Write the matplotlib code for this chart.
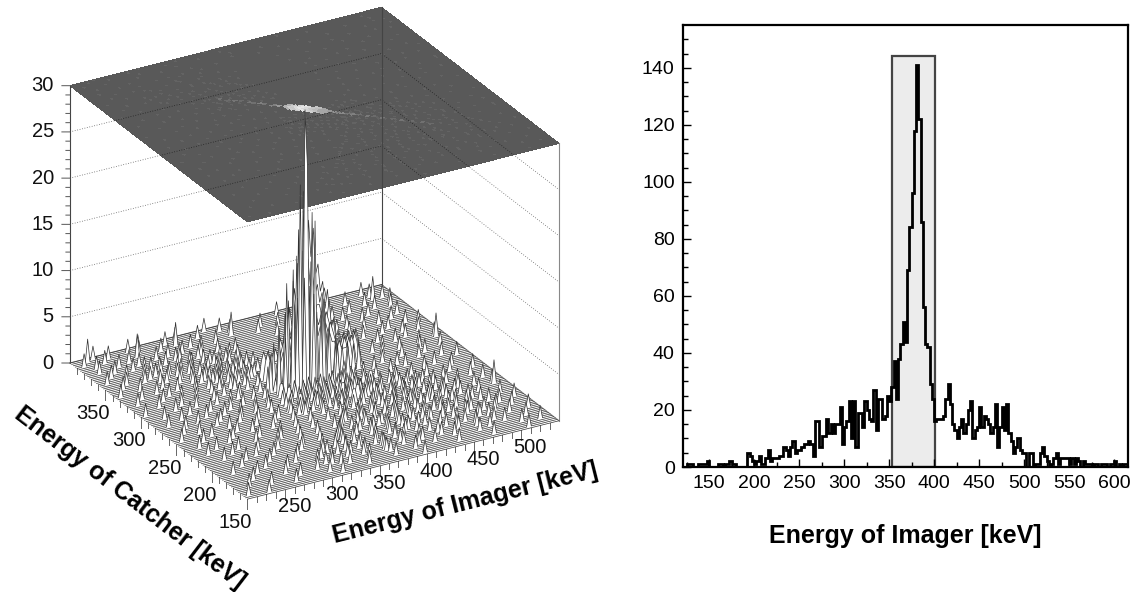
import numpy as np
import matplotlib
matplotlib.use('Agg')
import matplotlib.pyplot as plt
from matplotlib.patches import Rectangle
from mpl_toolkits.mplot3d import proj3d
from mpl_toolkits.mplot3d.art3d import Poly3DCollection

plt.rcParams['font.family'] = ['Liberation Sans', 'DejaVu Sans']

# right panel: counts per 2.5 keV bin, first bin starts at 122.5 keV
hist_start = 122.5
hist_width = 2.5
hist_counts = [
    0, 1, 1, 1, 0, 0, 1, 1, 1, 1, 2, 0, 0, 0, 0, 1, 1, 0, 1, 1,
    2, 1, 1, 0, 0, 0, 0, 0, 5, 4, 2, 1, 2, 4, 1, 1, 3, 6, 2, 3,
    3, 3, 4, 4, 7, 6, 4, 7, 9, 5, 6, 6, 7, 8, 8, 9, 8, 4, 16, 16,
    7, 11, 11, 17, 12, 15, 12, 15, 15, 21, 8, 14, 16, 23, 10, 23, 7, 19, 19, 14,
    23, 20, 17, 16, 27, 13, 24, 24, 17, 18, 25, 23, 28, 37, 24, 38, 43, 51, 44, 69,
    84, 96, 118, 141, 122, 86, 56, 43, 42, 29, 24, 16, 17, 17, 17, 18, 24, 29, 22, 15,
    13, 10, 14, 17, 12, 15, 20, 23, 10, 13, 14, 21, 14, 18, 17, 15, 12, 14, 22, 7,
    14, 21, 13, 22, 12, 9, 5, 7, 10, 6, 5, 5, 0, 5, 5, 0, 1, 1, 5, 7,
    4, 2, 0, 1, 3, 5, 1, 3, 3, 3, 3, 1, 3, 1, 3, 2, 0, 2, 1, 1,
    1, 0, 1, 1, 0, 1, 1, 1, 0, 1, 1, 2, 0, 1, 0, 1, 1, 0,
]
window_low = 353
window_high = 401
window_top = 144

# left panel: bin grid of the 2d histogram
imager_bins = np.arange(210, 540.1, 2.5)
catcher_bins = np.arange(150, 400.1, 2.5)

# tall thin spikes of the central peak, catcher -> (imager, counts)
peak_rows = {
    295: [(352, 6), (362, 9), (367, 11), (377, 14), (385, 10), (392, 7), (412, 4), (425, 3)],
    292.5: [(345, 5), (357, 8), (370, 13), (380, 12), (387, 9), (402, 5), (418, 3), (435, 3)],
    290: [(340, 4), (355, 8), (367, 14), (375, 11), (382, 13), (397, 7), (410, 4), (428, 3)],
    287.5: [(335, 3), (355, 11.5), (362, 9), (367, 17), (372, 21), (385, 17.5), (392, 9), (400, 6), (420, 3)],
    285: [(345, 7), (360, 13), (367, 22), (372, 30), (375, 24), (380, 18.7), (392, 9), (405, 4)],
    282.5: [(350, 6), (362, 10), (370, 12), (380, 10), (387, 8), (405, 4)],
}
# broad base of the peak behind them, values per bin from wall_start upwards
wall_start = 345
wall_rows = {
    310: [2, 3, 2, 3, 0, 2, 3, 2, 4, 3, 5, 4, 7, 5, 9, 7, 11, 8, 14, 10, 16, 12, 15, 10, 11, 8, 9, 6, 8, 5, 4, 3, 2, 3, 2, 3, 2, 3, 2, 2, 3, 2, 0],
    307.5: [0, 2, 3, 2, 0, 0, 2, 3, 2, 4, 3, 5, 4, 8, 5, 11, 7, 12, 8, 12, 9, 10, 8, 9, 7, 8, 6, 5, 7, 4, 5, 3, 3, 2, 3, 2, 3, 2, 2, 3, 2, 0, 0],
    305: [0, 0, 2, 3, 2, 2, 2, 3, 4, 3, 5, 4, 6, 5, 8, 6, 9, 7, 9, 6, 8, 6, 7, 7, 6, 5, 6, 5, 4, 5, 3, 3, 2, 3, 2, 3, 2, 2, 3, 2, 0, 0, 0],
    302.5: [0, 0, 0, 2, 2, 0, 2, 3, 2, 4, 3, 5, 4, 6, 4, 7, 5, 7, 5, 6, 5, 6, 5, 6, 4, 5, 4, 5, 4, 3, 3, 2, 2, 3, 2, 2, 3, 2, 0, 0, 0, 0, 0],
    300: [0, 0, 0, 0, 2, 0, 0, 2, 3, 2, 4, 3, 5, 3, 5, 4, 6, 4, 5, 4, 6, 4, 5, 3, 5, 3, 4, 3, 3, 2, 3, 2, 2, 2, 3, 2, 0, 0, 0, 0, 0, 0, 0],
}

# light streak on the top plane
streak_imager = [316, 320, 325, 329, 334, 338, 342, 346, 350, 353, 356, 359, 362, 364, 366, 368, 370, 372, 374, 376,
                 378, 380, 382, 384, 386, 389, 392, 395, 398, 402, 406, 410, 415, 420, 426, 432, 438, 445, 452, 458]
streak_catcher = [327.5, 322.5, 320, 317.5, 312.5, 310, 307.5, 305, 300, 300, 297.5, 295, 292.5, 290, 290, 287.5, 287.5, 285, 282.5, 282.5,
                  280, 280, 277.5, 275, 275, 272.5, 270, 267.5, 265, 262.5, 260, 257.5, 252.5, 250, 245, 240, 235, 230, 225, 220]
streak_level = [0.45, 0.42, 0.46, 0.42, 0.46, 0.44, 0.5, 0.46, 0.52, 0.5, 0.6, 0.55, 0.7, 0.72, 0.8, 0.78, 0.85, 0.9, 0.88, 0.85,
                0.82, 0.78, 0.74, 0.7, 0.65, 0.6, 0.58, 0.5, 0.54, 0.46, 0.5, 0.44, 0.48, 0.42, 0.46, 0.42, 0.46, 0.42, 0.44, 0.42]

# a few spikes that stand out at the back and right edge
tall_imager = [367, 312, 271, 224, 528, 531, 518]
tall_catcher = [382.5, 387.5, 385, 395, 225, 310, 382.5]
tall_n = [2.5, 2.5, 2.5, 2.5, 2.5, 2.5, 2.5]

# single low spikes on the floor, catcher -> imager positions
background_rows = {
    397.5: [232, 281, 351, 478], 395: [224, 268, 318, 425], 392.5: [246, 305, 362, 512], 390: [218, 276, 338, 452],
    387.5: [238, 312, 371, 518], 385: [271, 295, 400, 491], 382.5: [226, 367, 438, 527], 380: [258, 322, 415, 468],
    377.5: [245, 348, 392, 505], 375: [222, 282, 445, 531], 372.5: [262, 304, 420, 484], 370: [236, 326, 465, 510],
    367.5: [252, 298, 405, 526], 365: [228, 284, 341, 472], 362.5: [268, 318, 432, 497], 360: [241, 276, 355, 450],
    357.5: [218, 306, 410, 488], 355: [255, 290, 335, 522], 352.5: [264, 322, 428, 468], 350: [233, 277, 349, 455, 512],
    347.5: [250, 299, 420, 498], 345: [226, 272, 328, 440, 480], 342.5: [262, 310, 342, 462], 340: [283, 294, 425, 520],
    337.5: [238, 322, 351, 500], 335: [214, 278, 305, 445, 531], 332.5: [258, 336, 470, 490], 330: [288, 312, 418, 458],
    327.5: [248, 296, 345, 508], 325: [230, 268, 332, 435, 522], 322.5: [284, 308, 478], 320: [256, 318, 412, 452, 505],
    317.5: [220, 296, 340, 492], 315: [244, 280, 326, 430], 312.5: [262, 302, 475, 531], 310: [292, 355, 415, 462],
    307.5: [235, 315, 445, 510], 305: [272, 338, 428, 488], 302.5: [255, 300, 325, 468], 300: [216, 288, 350, 410, 505],
    297.5: [246, 312, 440, 525], 295: [266, 332, 425, 482], 292.5: [284, 308, 460, 505], 290: [228, 298, 345, 418],
    287.5: [252, 320, 448, 495], 285: [272, 330, 405, 470], 282.5: [240, 306, 432, 515], 280: [290, 342, 418, 476],
    277.5: [222, 262, 328, 458, 528], 275: [280, 312, 405, 440], 272.5: [250, 296, 345, 500], 270: [235, 322, 415, 488],
    267.5: [270, 308, 428, 456], 265: [290, 338, 405, 470, 512], 262.5: [228, 262, 320, 444], 260: [284, 350, 395, 482],
    257.5: [240, 302, 365, 424, 505], 255: [270, 335, 410, 450, 528], 252.5: [218, 320, 380, 464], 250: [248, 294, 346, 438, 492],
    247.5: [272, 312, 405, 458], 245: [236, 330, 375, 420, 518], 242.5: [284, 360, 434, 472], 240: [262, 306, 390, 446, 500],
    237.5: [225, 342, 416, 452, 525], 235: [254, 325, 372, 430, 480], 232.5: [286, 358, 402, 466], 230: [238, 306, 388, 442, 510],
    227.5: [278, 338, 415, 488, 528], 225: [226, 320, 370, 450, 462], 222.5: [254, 300, 400, 476], 220: [294, 354, 428, 440, 508],
    217.5: [244, 336, 386, 466], 215: [270, 316, 412, 492], 212.5: [232, 368, 438, 478], 210: [288, 352, 398, 452, 522],
    207.5: [262, 330, 426, 500], 205: [250, 310, 384, 472], 202.5: [278, 365, 410, 486], 200: [304, 348, 440, 456, 530],
    197.5: [240, 326, 396, 512], 195: [268, 344, 424, 476], 192.5: [296, 378, 460, 492], 190: [225, 320, 408, 520],
    187.5: [258, 358, 442, 500], 185: [288, 340, 392, 482], 182.5: [246, 312, 428, 464], 180: [276, 376, 510, 530],
    177.5: [304, 354, 412, 472], 175: [236, 334, 452, 490], 172.5: [268, 392, 432], 170: [316, 372, 498, 520],
    167.5: [225, 352, 442], 165: [278, 330, 420, 468], 162.5: [246, 398, 510], 160: [304, 375, 528],
    157.5: [268, 345, 440], 155: [215, 316, 475], 152.5: [236, 400, 510],
}
# extra spikes where the floor is denser, around the energy band
band_rows = {
    375: [296, 310, 330], 365: [262, 300, 322], 355: [272, 304, 318, 344], 350: [258, 290, 326, 338],
    345: [282, 296, 316, 338], 340: [268, 302, 320, 345], 335: [290, 328, 342, 356], 330: [300, 306, 318, 324, 330],
    325: [304, 312, 322, 338, 352], 320: [310, 326, 334, 344, 358], 315: [306, 318, 336, 350, 362], 310: [312, 328, 344, 358],
    262.5: [398, 412, 426, 436, 452], 257.5: [396, 408, 418, 432, 446, 460], 252.5: [392, 402, 414, 428, 442, 456, 472],
    247.5: [388, 398, 420, 434, 448, 466, 480], 242.5: [386, 402, 412, 426, 444, 458, 490], 237.5: [380, 396, 408, 432, 442, 462, 476],
    232.5: [376, 392, 414, 424, 438, 450, 480, 496], 227.5: [372, 386, 400, 426, 446, 460, 474], 222.5: [366, 384, 410, 420, 436, 456, 468, 490],
    217.5: [360, 378, 396, 418, 430, 448, 478], 212.5: [356, 382, 404, 416, 428, 456, 470, 496], 207.5: [350, 372, 392, 412, 440, 458, 484],
    202.5: [344, 380, 398, 424, 436, 462, 504], 197.5: [340, 358, 378, 410, 440, 452, 482], 192.5: [336, 356, 392, 412, 430, 474, 506],
    187.5: [322, 342, 374, 396, 418, 460, 482], 182.5: [330, 352, 370, 400, 444, 490], 177.5: [320, 340, 376, 392, 432, 452],
    172.5: [310, 350, 372, 412, 470], 167.5: [298, 322, 376, 404, 480],
}
# dark speckled area in front of the peak
front_rows = {
    280: [345, 358, 372, 384, 398, 410], 277.5: [350, 364, 378, 392, 404, 420], 275: [342, 356, 370, 386, 400, 414],
    272.5: [348, 362, 376, 390, 408, 424], 270: [338, 354, 368, 382, 396, 416], 267.5: [346, 360, 374, 388, 402, 430],
    265: [352, 366, 380, 394, 410, 422], 262.5: [340, 358, 372, 386, 404], 260: [348, 364, 378, 392, 412],
    257.5: [336, 354, 370, 384, 400], 255: [344, 360, 376, 392, 420], 252.5: [350, 366, 388, 406],
    250: [340, 356, 372, 384, 410], 247.5: [346, 362, 378, 394],
}
background_count = 1.4

imager_ticks = [250, 300, 350, 400, 450, 500]
catcher_ticks = [150, 200, 250, 300, 350]
z_ticks = [0, 5, 10, 15, 20, 25, 30]

counts = np.zeros((len(catcher_bins), len(imager_bins)))


def put(imager, catcher, n):
    counts[np.argmin(abs(catcher_bins - catcher)), np.argmin(abs(imager_bins - imager))] = n


for rows in (background_rows, band_rows, front_rows):
    for catcher, imagers in rows.items():
        for imager in imagers:
            put(imager, catcher, background_count)
for imager, catcher, n in zip(tall_imager, tall_catcher, tall_n):
    put(imager, catcher, n)

# the faint specks on the top plane are the low spikes only
shade = np.where(counts > 0, 0.39, 0.35)

for catcher, values in wall_rows.items():
    for j, n in enumerate(values):
        if n > 0:
            put(wall_start + 2.5 * j, catcher, n)
for catcher, cells in peak_rows.items():
    for imager, n in cells:
        put(imager, catcher, n)

fig = plt.figure(figsize=(11.35, 5.92), dpi=100)

# ---- left panel ----
ax = fig.add_axes([18.8 / 1135, 0.0728, 575.8 / 1135, 575.8 / 592], projection='3d', computed_zorder=False)
ax.set_proj_type('ortho')
ax.view_init(elev=26.06, azim=-119.8, roll=0)
ax.set_box_aspect((356, 354, 306))
ax.set_axis_off()
xmin, xmax = imager_bins[0], imager_bins[-1]
ymin, ymax = catcher_bins[0], catcher_bins[-1]

# flat colour map on the top plane
xx, yy = np.meshgrid(imager_bins, catcher_bins)
for imager, catcher, level in zip(streak_imager, streak_catcher, streak_level):
    r = np.argmin(abs(catcher_bins - catcher))
    c = np.argmin(abs(imager_bins - imager))
    w = 2 if level > 0.6 else 1
    shade[r - w + 1:r + w, c - w:c + w] = level
ax.plot_surface(xx, yy, np.full(xx.shape, 30.0), facecolors=np.dstack([shade, shade, shade, np.ones(shade.shape)]),
                rstride=1, cstride=1, shade=False, linewidth=0, antialiased=False, zorder=1)

# ribs of the surface, painted from the back row to the front row
for k, row in enumerate(range(len(catcher_bins) - 1, -1, -1)):
    catcher = catcher_bins[row]
    rib = [(x, catcher, z) for x, z in zip(imager_bins, counts[row])]
    rib = [(xmin, catcher, 0)] + rib + [(xmax, catcher, 0)]
    ax.add_collection3d(Poly3DCollection([rib], facecolor='white', edgecolor='none', zorder=3 + 2 * k))
    ax.plot(imager_bins, np.full(imager_bins.shape, catcher), counts[row], color='#303030', lw=0.5, zorder=4 + 2 * k)

ax.set_xlim(xmin, xmax)
ax.set_ylim(ymin, ymax)
ax.set_zlim(0, 30)

for z in z_ticks[1:-1]:
    ax.plot([xmin, xmax, xmax], [ymax, ymax, ymin], [z, z, z], color='black', lw=0.6, ls=(0, (1, 2)), alpha=0.6, zorder=2)
line_c = '#444444'
ax.plot([xmin, xmin], [ymax, ymax], [0, 30], color=line_c, lw=0.8, zorder=2)
ax.plot([xmax, xmax], [ymax, ymax], [0, 30], color=line_c, lw=0.8, zorder=2)
ax.plot([xmax, xmax], [ymin, ymin], [0, 30], color='#888888', lw=0.8, zorder=2)
ax.plot([xmin, xmax, xmax], [ymax, ymax, ymin], [0, 0, 0], color='#888888', lw=0.8, zorder=2)


def label3d(x, y, z, s, **kw):
    px, py, _ = proj3d.proj_transform(x, y, z, ax.get_proj())
    ax.text2D(px, py, s, transform=ax.transData, fontsize=14.5, va='center', color='#111111', **kw)


for z in range(0, 31):
    k = 1.0 if z % 5 == 0 else 0.5
    ax.plot([xmin, xmin - 6.4 * k], [ymax, ymax + 2.8 * k], [z, z], color='#555555', lw=0.7, zorder=2)
for z in z_ticks:
    label3d(xmin - 12.8, ymax + 5.6, z, str(z), ha='right')

for e in range(220, 540, 10):
    k = 1.1 if e % 50 == 0 else 0.6
    ax.plot([e, e], [ymin, ymin], [0, -k], color='#666666', lw=0.7, zorder=2)
for e in range(150, 400, 10):
    k = 1.1 if e % 50 == 0 else 0.6
    ax.plot([xmin, xmin], [e, e], [0, -k], color='#666666', lw=0.7, zorder=2)
for e in imager_ticks:
    label3d(e + 9.6, ymin, -2.1, str(e), ha='center')
for e in catcher_ticks:
    label3d(xmin - 12.8, e, -2.2, str(e), ha='center')

fig.text(130 / 1135, 1 - 498 / 592, 'Energy of Catcher [keV]', fontsize=18, fontweight='bold',
         rotation=-37.5, rotation_mode='anchor', ha='center', va='center')
fig.text(465 / 1135, 1 - 503 / 592, 'Energy of Imager [keV]', fontsize=18, fontweight='bold',
         rotation=14.1, rotation_mode='anchor', ha='center', va='center')

# ---- right panel ----
ax2 = fig.add_axes([683 / 1135, 1 - 467 / 592, 445 / 1135, 442 / 592])
edges = hist_start + hist_width * np.arange(len(hist_counts) + 1)
ax2.add_patch(Rectangle((window_low, 0), window_high - window_low, window_top, facecolor='#ececec', edgecolor='#444444', lw=1.6, zorder=1))
ax2.stairs(hist_counts, edges, color='black', lw=2, zorder=2)
ax2.set_xlim(121, 615.5)
ax2.set_ylim(0, 155)
ax2.set_xticks(np.arange(150, 601, 50))
ax2.set_xticks(np.arange(125, 601, 25), minor=True)
ax2.set_yticks(np.arange(0, 141, 20))
ax2.set_yticks(np.arange(0, 151, 5), minor=True)
ax2.tick_params(which='major', direction='in', length=6, width=1, labelsize=14, pad=6)
ax2.tick_params(which='minor', direction='in', length=3.5, width=1)
for s in ax2.spines.values():
    s.set_linewidth(1.6)
ax2.set_xlabel('Energy of Imager [keV]', fontsize=18, fontweight='bold', labelpad=23)

fig.savefig('out.png', dpi=100)
